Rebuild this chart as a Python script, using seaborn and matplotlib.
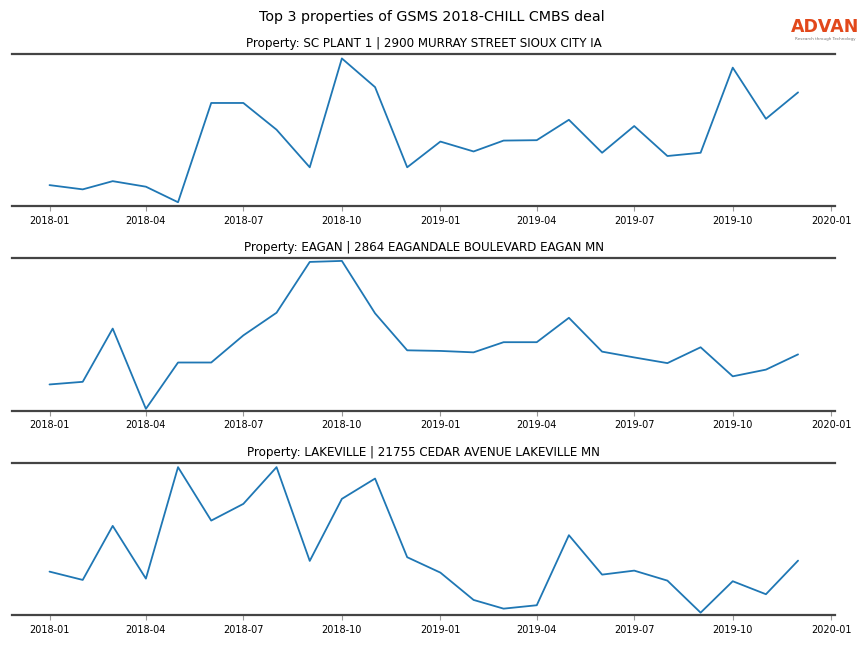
import pandas as pd
import seaborn as sns
import matplotlib.pyplot as plt

# monthly values, 2018-01 .. 2019-12
months = pd.date_range("2018-01-01", "2019-12-01", freq="MS")
tick_dates = pd.date_range("2018-01-01", "2020-01-01", freq="3MS")

titles = [
    "Property: SC PLANT 1 | 2900 MURRAY STREET SIOUX CITY IA",
    "Property: EAGAN | 2864 EAGANDALE BOULEVARD EAGAN MN",
    "Property: LAKEVILLE | 21755 CEDAR AVENUE LAKEVILLE MN",
]

sc_plant = [21.3, 17, 25.3, 19.7, 4, 104.3, 104.3, 77.3, 39.3, 149.3, 120.3, 39.3,
            65.3, 55.3, 66.3, 66.7, 87.3, 54, 81, 50.7, 54, 140, 88.3, 115]
eagan = [25.7, 28.3, 80.7, 1.7, 47.3, 47.3, 74, 96.3, 146.3, 147.3, 95.7, 59.3,
         58.7, 57.3, 67.3, 67.3, 91.3, 58, 52.3, 46.7, 62.3, 33.7, 40.3, 55.3]
lakeville = [43.3, 35, 89, 36.3, 147.7, 94.3, 111, 147.7, 54, 116, 136.3, 57.7,
             42.3, 15, 6.3, 9.7, 79.7, 40.3, 44.3, 34.3, 2.3, 33.7, 20.7, 54.3]

series = [sc_plant, eagan, lakeville]
y_tops = [154, 150, 152.3]

sns.set_style("white")

fig, axes = plt.subplots(3, 1, figsize=(8.64, 6.48), dpi=100)
fig.subplots_adjust(left=0.014, right=0.967, top=0.917, bottom=0.051, hspace=0.341)

for ax, title, vals, ytop in zip(axes, titles, series, y_tops):
    df = pd.DataFrame({"month": months, "value": vals})
    sns.lineplot(data=df, x="month", y="value", ax=ax, color="#1f77b4", linewidth=1.3)
    ax.set_title(title, fontsize=8.6, pad=5, color="black")
    ax.set_xlabel("")
    ax.set_ylabel("")
    ax.set_yticks([])
    ax.set_ylim(0, ytop)
    ax.set_xticks(tick_dates)
    ax.set_xticklabels([d.strftime("%Y-%m") for d in tick_dates])
    ax.tick_params(axis="x", labelsize=7, length=3.5, width=0.8, color="#999999",
                   labelcolor="black", bottom=True)
    for side in ["left", "right"]:
        ax.spines[side].set_visible(False)
    for side in ["top", "bottom"]:
        ax.spines[side].set_visible(True)
        ax.spines[side].set_color("#444444")
        ax.spines[side].set_linewidth(1.6)

fig.suptitle("Top 3 properties of GSMS 2018-CHILL CMBS deal", fontsize=10.3, y=0.985, color="black")

# logo
fig.text(0.955, 0.950, "ADVAN", color="#e2481b", fontsize=12.5, fontweight="semibold",
         ha="center", va="baseline")
fig.text(0.955, 0.940, "Research through Technology", color="#777777", fontsize=3,
         ha="center", va="center")

plt.savefig("out.png")
